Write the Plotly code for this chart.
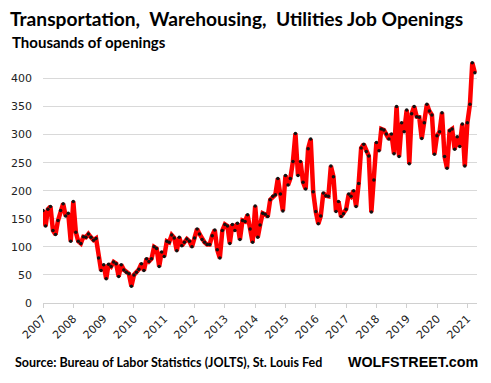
import pandas as pd
import plotly.graph_objects as go

start_month = "2007-01-01"
openings = [
    # 2007
    165, 137, 167, 172, 129, 122, 147, 165, 177, 155, 160, 110,
    # 2008
    181, 126, 110, 106, 118, 117, 123, 117, 112, 115, 80, 58,
    # 2009
    68, 43, 69, 65, 73, 70, 47, 68, 59, 55, 52, 30,
    # 2010
    50, 55, 60, 70, 58, 79, 74, 79, 100, 97, 65, 91,
    # 2011
    83, 110, 108, 121, 116, 93, 117, 102, 108, 114, 110, 100,
    # 2012
    116, 132, 123, 113, 108, 104, 104, 120, 130, 95, 80, 129,
    # 2013
    140, 137, 106, 140, 129, 142, 113, 147, 145, 157, 132, 108,
    # 2014
    173, 117, 139, 160, 158, 154, 184, 190, 193, 222, 194, 164,
    # 2015
    227, 210, 222, 252, 302, 227, 252, 215, 203, 275, 292, 198,
    # 2016
    163, 141, 155, 196, 191, 190, 244, 225, 163, 181, 154, 159,
    # 2017
    167, 194, 190, 200, 172, 213, 276, 283, 270, 262, 162, 219,
    # 2018
    286, 271, 310, 308, 301, 292, 301, 266, 350, 261, 321, 305,
    # 2019
    344, 248, 337, 350, 332, 331, 293, 321, 354, 342, 335, 265,
    # 2020
    298, 305, 339, 261, 240, 307, 310, 274, 296, 279, 319, 244,
    # 2021
    321, 354, 428, 410,
]
months = pd.date_range(start_month, periods=len(openings), freq="MS")
year_ticks = [f"{y}-01-01" for y in range(2007, 2022)]
year_labels = [str(y) for y in range(2007, 2022)]
y_ticks = [0, 50, 100, 150, 200, 250, 300, 350, 400]

title_text = "Transportation,  Warehousing,  Utilities Job Openings"
subtitle_text = "Thousands of openings"
source_text = "Source: Bureau of Labor Statistics (JOLTS), St. Louis Fed"
brand_text = "WOLFSTREET.com"

fig = go.Figure()
fig.add_trace(go.Scatter(
    x=months, y=openings, mode="lines+markers",
    line=dict(color="#FF0000", width=4.5),
    marker=dict(color="#111111", size=3.5),
    hoverinfo="x+y", showlegend=False,
))

L, R, T, B = 43, 14, 56, 80
W, H = 491, 383
pw = W - L - R
ph = H - T - B

def px(xp):
    return (xp - L) / pw

def py(yp):
    return (H - B - yp) / ph

fig.update_layout(
    width=W, height=H,
    margin=dict(l=L, r=R, t=T, b=B),
    paper_bgcolor="white", plot_bgcolor="white",
    title=dict(text=f"<b>{title_text}</b>", x=10 / W, xanchor="left",
               y=1 - 19.5 / H, yanchor="middle",
               font=dict(family="Lato", size=19.2, color="#000000")),
    xaxis=dict(
        type="date", range=["2007-01-01", "2021-04-27"],
        tickvals=year_ticks, ticktext=year_labels, tickangle=-45,
        showgrid=False, showline=True, linecolor="#d0d0d0", linewidth=1,
        ticks="outside", ticklen=4, tickcolor="#d0d0d0",
        tickfont=dict(family="DejaVu Sans", size=11, color="#222222"),
        zeroline=False,
    ),
    yaxis=dict(
        range=[0, 440], tickvals=y_ticks,
        showgrid=True, gridcolor="#d9d9d9", gridwidth=1,
        showline=False, zeroline=False, ticks="",
        ticklabelstandoff=10,
        tickfont=dict(family="DejaVu Sans", size=11, color="#222222"),
    ),
    annotations=[
        dict(text=f"<b>{subtitle_text}</b>", xref="paper", yref="paper",
             x=px(10), y=py(42), xanchor="left", yanchor="middle", showarrow=False,
             font=dict(family="Lato", size=15, color="#000000")),
        dict(text=f"<b>{source_text}</b>", xref="paper", yref="paper",
             x=px(13), y=py(362), xanchor="left", yanchor="middle", showarrow=False,
             font=dict(family="Lato", size=12.5, color="#000000")),
        dict(text=f"<b>{brand_text}</b>", xref="paper", yref="paper",
             x=px(480), y=py(362), xanchor="right", yanchor="middle", showarrow=False,
             font=dict(family="Liberation Sans", size=14.3, color="#000000")),
    ],
)

fig.write_html("out.html", config={"displayModeBar": False},
               post_script="document.body.style.margin='0';")
